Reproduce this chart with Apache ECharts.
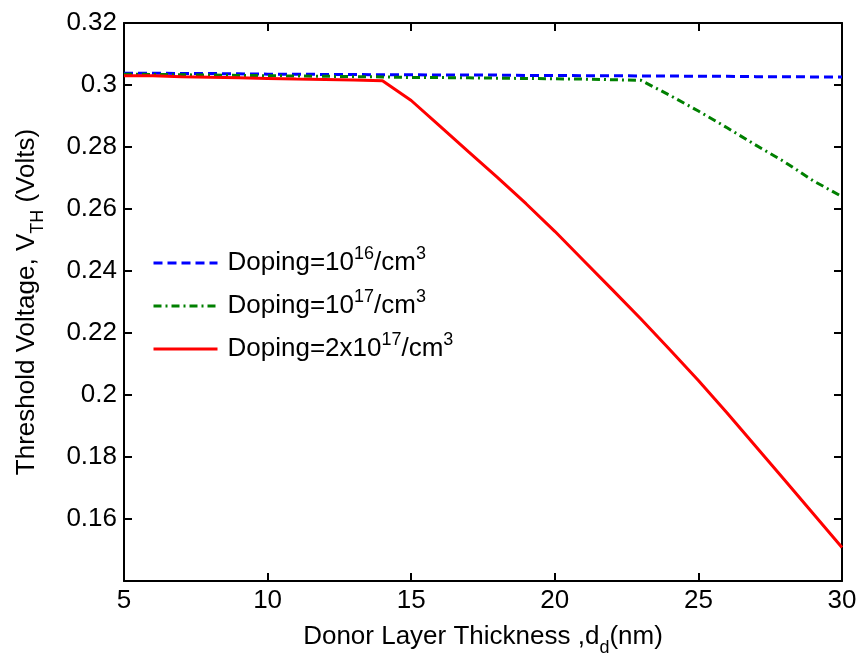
<!DOCTYPE html>
<html>
<head>
<meta charset="utf-8">
<script src="https://cdn.jsdelivr.net/npm/echarts@6/dist/echarts.min.js"></script>
<style>
  html, body { margin: 0; padding: 0; background: #fff; }
  #chart { width: 858px; height: 655px; }
</style>
</head>
<body>
<div id="chart"></div>
<script>
// Donor layer thickness (nm)
const thickness = [5, 6, 7, 8, 9, 10, 11, 12, 13, 14, 15, 16, 17, 18, 19, 20, 21, 22, 23, 24, 25, 26, 27, 28, 29, 30];

// Threshold voltage (V) for each doping level
const vthDoping1e16 = [0.3038, 0.3038, 0.3037, 0.3037, 0.3036, 0.3035, 0.3035, 0.3034, 0.3034, 0.3033,
                       0.3033, 0.3032, 0.3032, 0.3032, 0.3031, 0.3031, 0.3030, 0.3030, 0.3029, 0.3029,
                       0.3028, 0.3028, 0.3027, 0.3027, 0.3026, 0.3026];
const vthDoping1e17 = [0.3035, 0.3034, 0.3033, 0.3032, 0.3031, 0.3030, 0.3029, 0.3028, 0.3027, 0.3026,
                       0.3024, 0.3024, 0.3023, 0.3022, 0.3021, 0.3020, 0.3019, 0.3017, 0.3015, 0.2967,
                       0.2916, 0.2862, 0.2806, 0.2752, 0.2691, 0.2640];
const vthDoping2e17 = [0.3030, 0.3030, 0.3027, 0.3025, 0.3023, 0.3021, 0.3019, 0.3018, 0.3016, 0.3014,
                       0.2950, 0.2867, 0.2784, 0.2702, 0.2617, 0.2528, 0.2434, 0.2340, 0.2245, 0.2147,
                       0.2047, 0.1942, 0.1834, 0.1726, 0.1617, 0.1508];

const seriesNames = ['Doping=1e16', 'Doping=1e17', 'Doping=2e17'];
const legendLabels = {
  'Doping=1e16': '{lead|Doping=10}{sup|16}{base|/cm}{sup|3}',
  'Doping=1e17': '{lead|Doping=10}{sup|17}{base|/cm}{sup|3}',
  'Doping=2e17': '{lead|Doping=2x10}{sup|17}{base|/cm}{sup|3}'
};

const xTicks = { min: 5, max: 30, interval: 5 };
const yTicks = { min: 0.14, max: 0.32, interval: 0.02 };

const FONT = '"Liberation Sans", Arial, sans-serif';
const FS = 26;
const FS_SMALL = 18;
const pairs = ys => thickness.map((x, i) => [x, ys[i]]);

const chart = echarts.init(document.getElementById('chart'), null, { renderer: 'canvas' });

const axisCommon = {
  axisLine: { show: true, onZero: false, lineStyle: { color: '#000', width: 2 } },
  axisTick: { show: true, inside: true, length: 8, lineStyle: { color: '#000', width: 2 } },
  splitLine: { show: false }
};

chart.setOption({
  animation: false,
  backgroundColor: '#fff',
  grid: { left: 124, right: 16, top: 23, bottom: 74, containLabel: false, outerBoundsMode: 'none' },
  xAxis: [
    Object.assign({
      type: 'value', position: 'bottom',
      min: xTicks.min, max: xTicks.max, interval: xTicks.interval,
      axisLabel: { color: '#000', fontFamily: FONT, fontSize: FS, margin: 7 },
      name: 'Donor Layer Thickness ,d{sub|d}(nm)',
      nameLocation: 'middle', nameGap: 36,
      nameTextStyle: {
        color: '#000', fontFamily: FONT, fontSize: FS,
        rich: { sub: { fontFamily: FONT, fontSize: FS_SMALL, color: '#000', padding: [22, 0, 0, 0] } }
      }
    }, axisCommon),
    Object.assign({
      type: 'value', position: 'top',
      min: xTicks.min, max: xTicks.max, interval: xTicks.interval,
      axisLabel: { show: false }
    }, axisCommon)
  ],
  yAxis: [
    Object.assign({
      type: 'value', position: 'left',
      min: yTicks.min, max: yTicks.max, interval: yTicks.interval,
      axisLabel: {
        color: '#000', fontFamily: FONT, fontSize: FS, margin: 7,
        formatter: v => (v < 0.145 ? '' : String(parseFloat(v.toFixed(2))))
      },
      name: 'Threshold Voltage, V{sub|TH} (Volts)',
      nameLocation: 'middle', nameGap: 77,
      nameTextStyle: {
        color: '#000', fontFamily: FONT, fontSize: FS,
        rich: { sub: { fontFamily: FONT, fontSize: FS_SMALL, color: '#000', padding: [22, 0, 0, 0] } }
      }
    }, axisCommon),
    Object.assign({
      type: 'value', position: 'right',
      min: yTicks.min, max: yTicks.max, interval: yTicks.interval,
      axisLabel: { show: false }
    }, axisCommon)
  ],
  legend: {
    orient: 'vertical',
    left: 152, top: 245, padding: 0,
    itemWidth: 64, itemHeight: 14, itemGap: 12,
    data: seriesNames,
    formatter: name => legendLabels[name],
    itemStyle: { opacity: 0 },
    lineStyle: { width: 3 },
    textStyle: {
      color: '#000', fontFamily: FONT, fontSize: FS,
      rich: {
        lead: { fontFamily: FONT, fontSize: FS, color: '#000', padding: [0, 0, 0, 5] },
        base: { fontFamily: FONT, fontSize: FS, color: '#000' },
        sup: { fontFamily: FONT, fontSize: FS_SMALL, color: '#000', padding: [0, 0, 18, 0] }
      }
    }
  },
  series: [
    {
      name: seriesNames[0], type: 'line', data: pairs(vthDoping1e16),
      symbol: 'none', smooth: false, z: 2,
      lineStyle: { color: '#0000ff', width: 3, type: [9, 5] },
      itemStyle: { color: '#0000ff' }
    },
    {
      name: seriesNames[1], type: 'line', data: pairs(vthDoping1e17),
      symbol: 'none', smooth: false, z: 3,
      lineStyle: { color: '#008000', width: 3, type: [8, 4, 2, 4] },
      itemStyle: { color: '#008000' }
    },
    {
      name: seriesNames[2], type: 'line', data: pairs(vthDoping2e17),
      symbol: 'none', smooth: false, z: 4,
      lineStyle: { color: '#ff0000', width: 3, type: 'solid' },
      itemStyle: { color: '#ff0000' }
    }
  ]
});
</script>
</body>
</html>
